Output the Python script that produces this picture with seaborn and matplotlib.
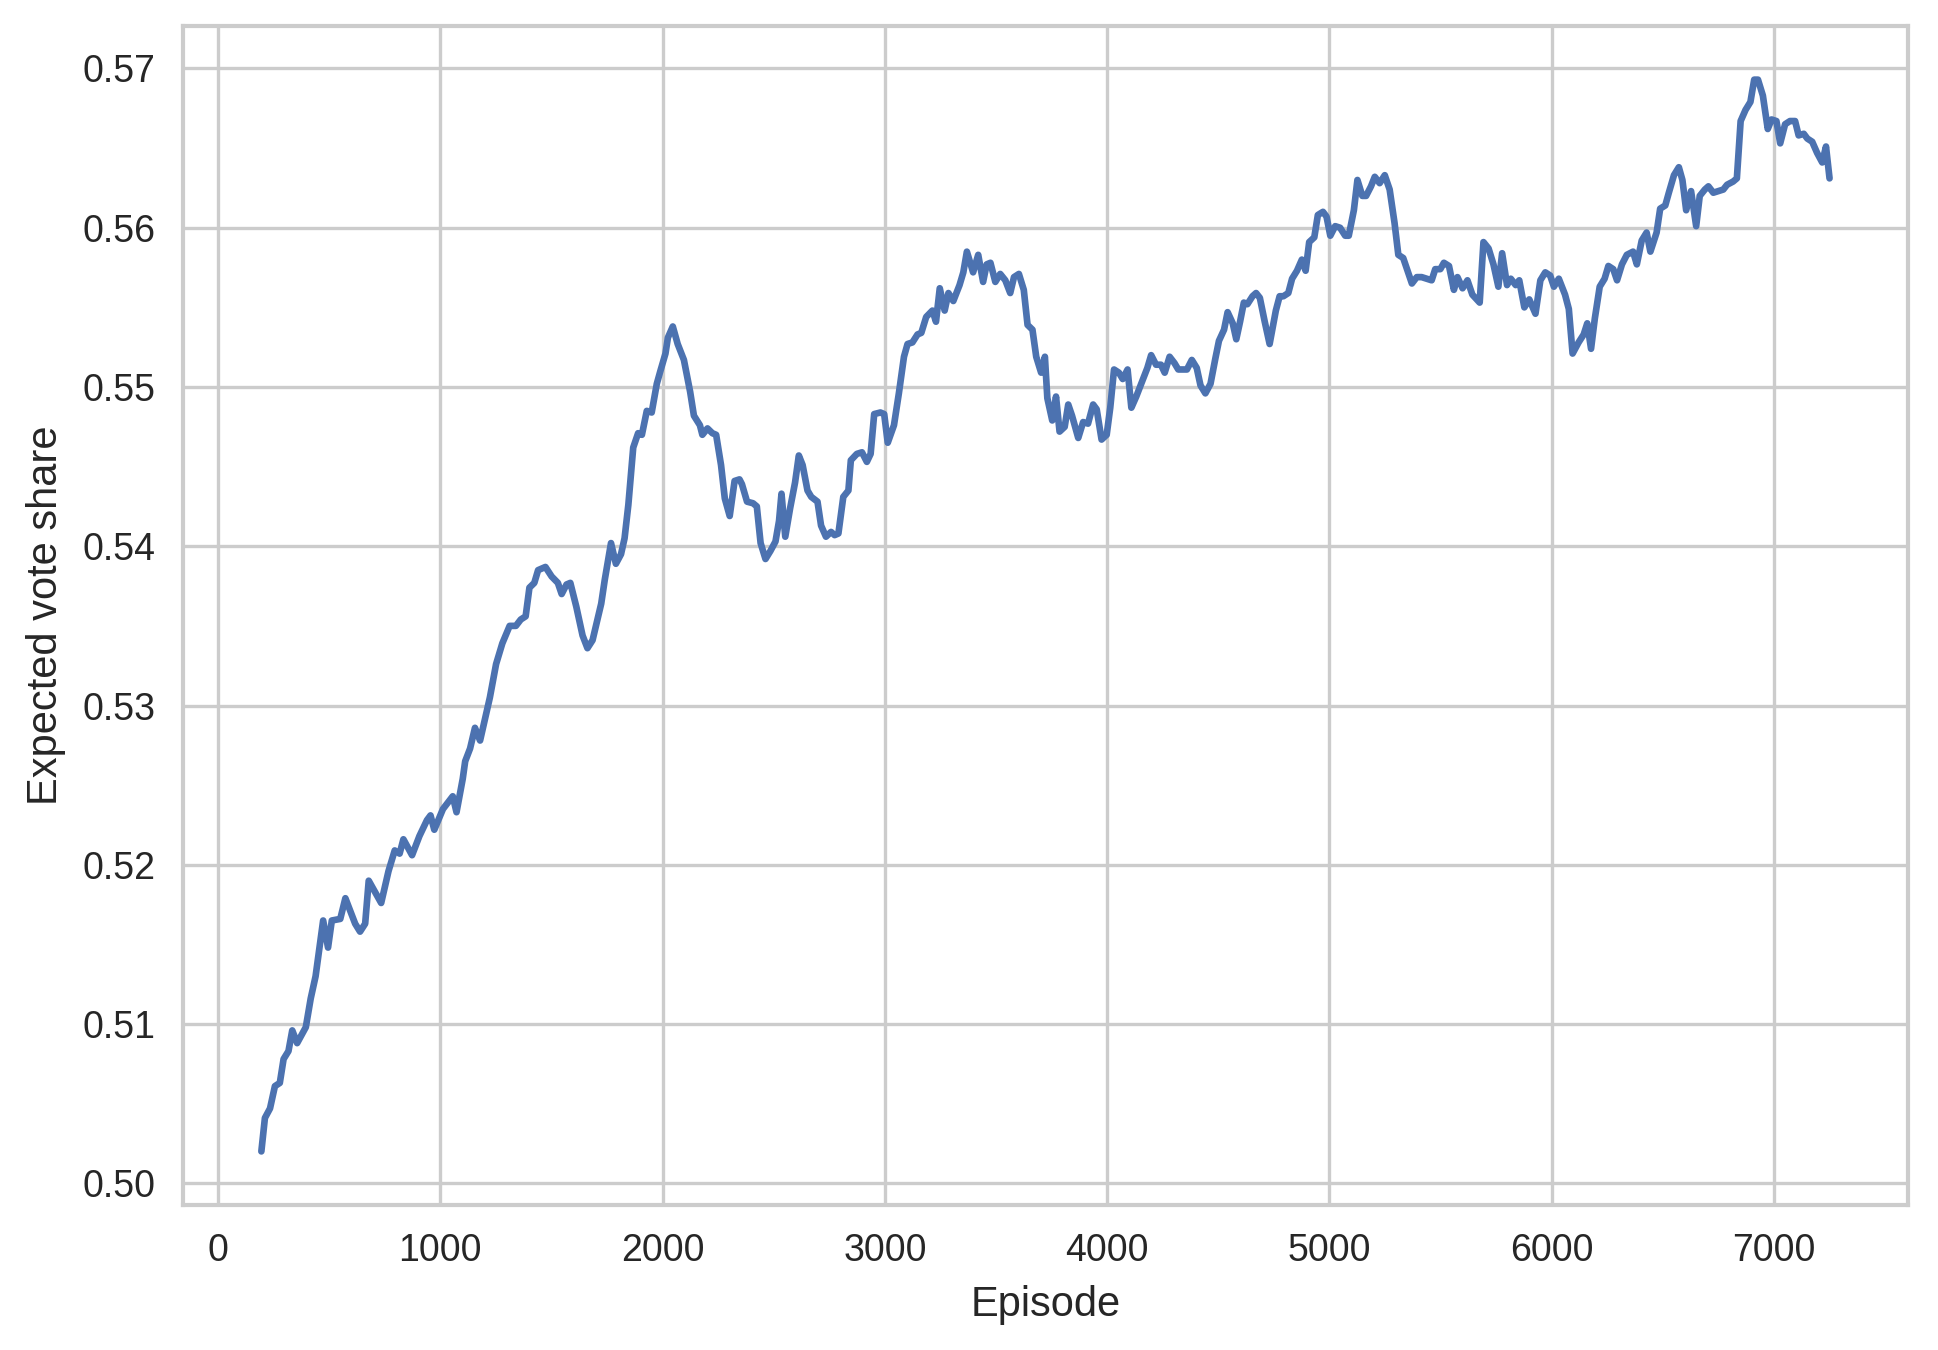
import numpy as np
import pandas as pd
import matplotlib.pyplot as plt
import seaborn as sns

episode = [195, 211, 234, 256, 278, 295, 317, 334, 356, 395, 417, 439, 473, 495, 512, 550, 573, 617, 639, 662,
           678, 734, 767, 795, 817, 834, 873, 906, 940, 956, 973, 1012, 1056, 1073, 1101, 1112, 1134, 1156, 1179, 1223,
           1251, 1279, 1312, 1340, 1362, 1384, 1401, 1423, 1440, 1473, 1501, 1529, 1546, 1568, 1585, 1612, 1640, 1662, 1685, 1707,
           1724, 1740, 1768, 1790, 1813, 1829, 1846, 1868, 1890, 1907, 1929, 1951, 1974, 1990, 2013, 2024, 2046, 2068, 2096, 2124,
           2141, 2168, 2179, 2202, 2224, 2241, 2263, 2280, 2302, 2324, 2346, 2357, 2380, 2407, 2424, 2441, 2463, 2485, 2508, 2524,
           2535, 2552, 2574, 2596, 2613, 2630, 2652, 2669, 2697, 2713, 2735, 2758, 2774, 2791, 2813, 2836, 2847, 2874, 2897, 2919,
           2936, 2952, 2980, 2997, 3013, 3041, 3063, 3086, 3102, 3124, 3147, 3164, 3186, 3214, 3230, 3247, 3269, 3286, 3308, 3336,
           3353, 3369, 3397, 3420, 3442, 3458, 3475, 3497, 3519, 3542, 3564, 3581, 3603, 3625, 3642, 3664, 3681, 3703, 3720, 3731,
           3753, 3770, 3786, 3809, 3825, 3842, 3870, 3892, 3914, 3937, 3953, 3975, 3998, 4014, 4031, 4053, 4070, 4092, 4109, 4131,
           4159, 4181, 4198, 4220, 4242, 4259, 4281, 4303, 4320, 4359, 4381, 4403, 4420, 4442, 4465, 4487, 4503, 4526, 4542, 4565,
           4581, 4598, 4615, 4631, 4654, 4670, 4687, 4709, 4731, 4759, 4776, 4793, 4815, 4832, 4854, 4876, 4893, 4909, 4932, 4948,
           4971, 4987, 5004, 5026, 5048, 5071, 5087, 5110, 5126, 5148, 5165, 5187, 5204, 5226, 5249, 5271, 5293, 5310, 5332, 5354,
           5371, 5393, 5415, 5438, 5460, 5476, 5499, 5515, 5538, 5560, 5576, 5599, 5621, 5643, 5676, 5693, 5716, 5738, 5760, 5777,
           5799, 5816, 5838, 5854, 5877, 5899, 5927, 5949, 5971, 5993, 6010, 6032, 6060, 6077, 6094, 6121, 6144, 6160, 6177, 6194,
           6216, 6238, 6255, 6277, 6294, 6316, 6338, 6366, 6383, 6405, 6427, 6444, 6472, 6488, 6511, 6527, 6550, 6572, 6588, 6605,
           6627, 6650, 6666, 6689, 6705, 6727, 6750, 6772, 6789, 6816, 6833, 6850, 6872, 6894, 6911, 6928, 6950, 6972, 6989, 7011,
           7028, 7050, 7072, 7095, 7111, 7134, 7150, 7172, 7194, 7217, 7234, 7250]

vote_share = [0.5020, 0.5041, 0.5047, 0.5061, 0.5063, 0.5078, 0.5083, 0.5096, 0.5088, 0.5098, 0.5116, 0.5130, 0.5165, 0.5148, 0.5165, 0.5166, 0.5179, 0.5163, 0.5158, 0.5163,
              0.5190, 0.5176, 0.5196, 0.5209, 0.5207, 0.5216, 0.5206, 0.5218, 0.5228, 0.5231, 0.5222, 0.5235, 0.5243, 0.5233, 0.5254, 0.5265, 0.5273, 0.5286, 0.5278, 0.5305,
              0.5326, 0.5339, 0.5350, 0.5350, 0.5354, 0.5356, 0.5374, 0.5377, 0.5385, 0.5387, 0.5381, 0.5377, 0.5370, 0.5376, 0.5377, 0.5362, 0.5344, 0.5336, 0.5341, 0.5354,
              0.5364, 0.5379, 0.5402, 0.5389, 0.5395, 0.5405, 0.5426, 0.5462, 0.5471, 0.5470, 0.5485, 0.5484, 0.5502, 0.5510, 0.5521, 0.5531, 0.5538, 0.5527, 0.5517, 0.5497,
              0.5482, 0.5476, 0.5470, 0.5474, 0.5471, 0.5470, 0.5451, 0.5430, 0.5419, 0.5441, 0.5442, 0.5439, 0.5428, 0.5427, 0.5425, 0.5402, 0.5392, 0.5397, 0.5403, 0.5416,
              0.5433, 0.5406, 0.5424, 0.5440, 0.5457, 0.5451, 0.5435, 0.5431, 0.5428, 0.5413, 0.5406, 0.5409, 0.5407, 0.5408, 0.5431, 0.5435, 0.5454, 0.5458, 0.5459, 0.5453,
              0.5458, 0.5483, 0.5484, 0.5483, 0.5465, 0.5476, 0.5496, 0.5519, 0.5527, 0.5528, 0.5533, 0.5534, 0.5544, 0.5548, 0.5541, 0.5562, 0.5548, 0.5559, 0.5554, 0.5564,
              0.5572, 0.5585, 0.5572, 0.5583, 0.5566, 0.5577, 0.5578, 0.5566, 0.5571, 0.5567, 0.5559, 0.5569, 0.5571, 0.5561, 0.5539, 0.5536, 0.5519, 0.5509, 0.5519, 0.5493,
              0.5479, 0.5494, 0.5472, 0.5475, 0.5489, 0.5482, 0.5468, 0.5478, 0.5477, 0.5489, 0.5486, 0.5467, 0.5470, 0.5487, 0.5511, 0.5509, 0.5505, 0.5511, 0.5487, 0.5494,
              0.5504, 0.5512, 0.5520, 0.5514, 0.5514, 0.5509, 0.5519, 0.5515, 0.5511, 0.5511, 0.5517, 0.5512, 0.5501, 0.5496, 0.5502, 0.5518, 0.5529, 0.5536, 0.5547, 0.5540,
              0.5530, 0.5541, 0.5553, 0.5552, 0.5557, 0.5559, 0.5556, 0.5541, 0.5527, 0.5548, 0.5557, 0.5557, 0.5559, 0.5568, 0.5573, 0.5580, 0.5573, 0.5591, 0.5594, 0.5608,
              0.5610, 0.5607, 0.5595, 0.5601, 0.5600, 0.5595, 0.5595, 0.5611, 0.5630, 0.5620, 0.5620, 0.5626, 0.5632, 0.5628, 0.5633, 0.5624, 0.5603, 0.5583, 0.5581, 0.5572,
              0.5565, 0.5569, 0.5569, 0.5568, 0.5567, 0.5574, 0.5574, 0.5578, 0.5576, 0.5561, 0.5569, 0.5562, 0.5567, 0.5558, 0.5553, 0.5591, 0.5587, 0.5577, 0.5563, 0.5584,
              0.5564, 0.5568, 0.5564, 0.5567, 0.5550, 0.5555, 0.5546, 0.5567, 0.5572, 0.5570, 0.5563, 0.5568, 0.5558, 0.5549, 0.5521, 0.5528, 0.5533, 0.5540, 0.5524, 0.5543,
              0.5563, 0.5568, 0.5576, 0.5574, 0.5567, 0.5577, 0.5583, 0.5585, 0.5577, 0.5592, 0.5597, 0.5585, 0.5597, 0.5612, 0.5614, 0.5622, 0.5633, 0.5638, 0.5630, 0.5611,
              0.5623, 0.5601, 0.5620, 0.5624, 0.5626, 0.5622, 0.5623, 0.5624, 0.5627, 0.5629, 0.5631, 0.5667, 0.5674, 0.5679, 0.5693, 0.5693, 0.5683, 0.5662, 0.5668, 0.5667,
              0.5653, 0.5665, 0.5667, 0.5667, 0.5658, 0.5659, 0.5656, 0.5654, 0.5647, 0.5641, 0.5651, 0.5631]

df = pd.DataFrame({"Episode": episode, "Expected vote share": vote_share})

sns.set_theme(context="paper", style="whitegrid")
plt.rcParams["font.family"] = ["Liberation Sans", "DejaVu Sans"]
plt.rcParams["axes.labelsize"] = 10
plt.rcParams["xtick.labelsize"] = 9
plt.rcParams["ytick.labelsize"] = 9
plt.rcParams["xtick.major.pad"] = 1.8
plt.rcParams["ytick.major.pad"] = 1.8

fig, ax = plt.subplots(figsize=(6.46, 4.5))
sns.lineplot(data=df, x="Episode", y="Expected vote share", linewidth=1.6, ax=ax)
fig.subplots_adjust(left=0.0944, right=0.9845, top=0.9807, bottom=0.1074)
fig.savefig("out.png", dpi=300)
